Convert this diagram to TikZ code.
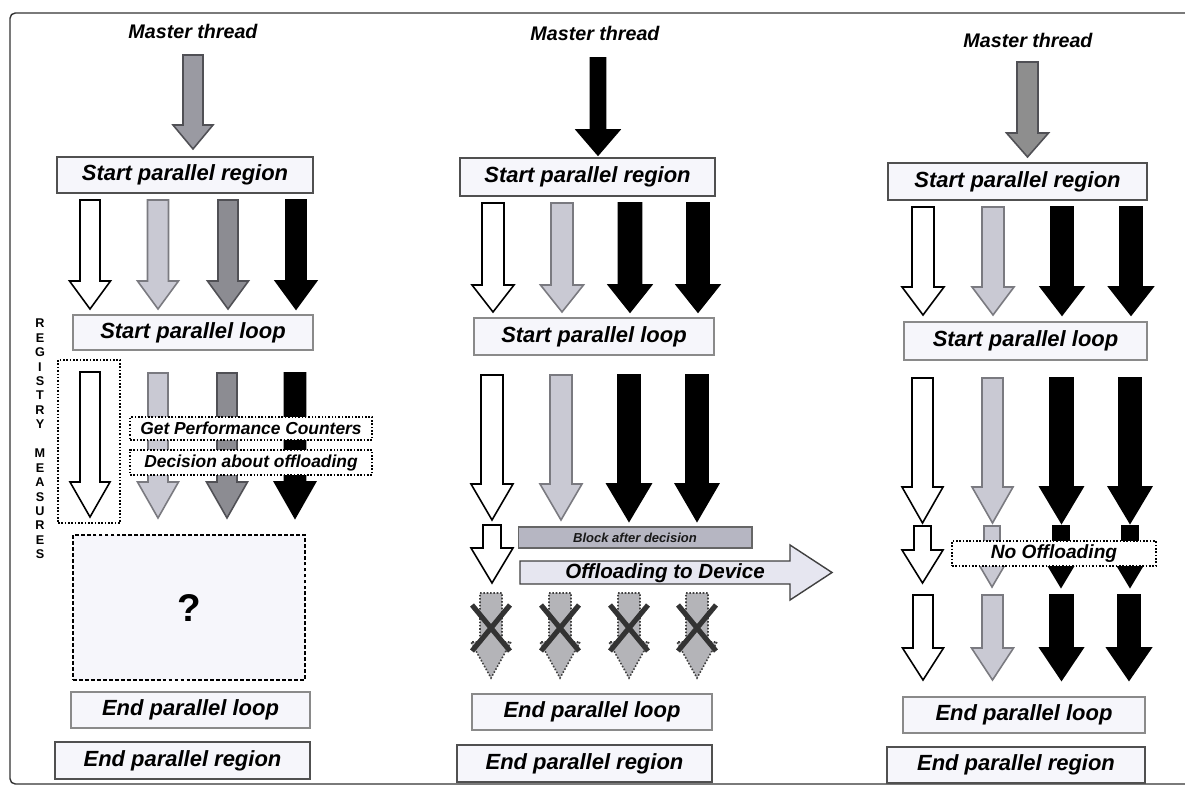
\documentclass[tikz,border=0pt]{standalone}
\usepackage{fontspec}
\setmainfont{Liberation Sans}
\definecolor{lgray}{HTML}{C9C9D3}
\definecolor{lgrayd}{HTML}{7A7A80}
\definecolor{mgray}{HTML}{8C8C92}
\definecolor{mgrayd}{HTML}{505055}
\definecolor{mstA}{HTML}{9A9AA2}
\definecolor{mstC}{HTML}{8E8E8E}
\definecolor{xgray}{HTML}{B4B4B8}
\definecolor{xdark}{HTML}{333333}
\definecolor{boxf}{HTML}{F6F6FB}
\definecolor{boxd}{HTML}{505050}
\definecolor{boxl}{HTML}{8A8A8A}
\definecolor{barf}{HTML}{B6B6C2}
\definecolor{offf}{HTML}{E6E6F0}
\newcommand{\barrow}[7]{\draw[#1] ({#2-#6},#3) -- ({#2+#6},#3) -- ({#2+#6},#4) -- ({#2+#7},#4) -- (#2,#5) -- ({#2-#7},#4) -- ({#2-#6},#4) -- cycle;}
\newcommand{\xarrow}[1]{\barrow{xgr}{#1}{593}{642}{678}{11}{20}
  \draw[xmark] ({#1-19},605) -- ({#1+19},651);
  \draw[xmark] ({#1+19},605) -- ({#1-19},651);}
\tikzset{
 wht/.style={fill=white, draw=black, line width=0.9pt},
 lgr/.style={fill=lgray, draw=lgrayd, line width=0.9pt},
 mgr/.style={fill=mgray, draw=mgrayd, line width=0.9pt},
 blk/.style={fill=black, draw=black, line width=0.9pt},
 mstone/.style={fill=mstA, draw=mgrayd, line width=0.9pt},
 msttwo/.style={fill=mstC, draw=mgrayd, line width=0.9pt},
 xgr/.style={fill=xgray, draw=black!75, line width=0.9pt, densely dotted},
 xmark/.style={draw=xdark, line width=2.9pt},
 regbox/.style={draw=boxd, fill=boxf, line width=0.7pt, inner sep=0pt,
   font=\bfseries\itshape\fontsize{12.5}{14}\selectfont},
 loopbox/.style={regbox, draw=boxl},
 dotbox/.style={draw=black, fill=white, densely dotted, line width=0.9pt, inner sep=0pt,
   font=\bfseries\itshape\fontsize{9.9}{11}\selectfont},
 mlabel/.style={font=\bfseries\itshape\fontsize{11.2}{13}\selectfont},
}
\begin{document}
\begin{tikzpicture}[x=0.02cm,y=-0.02cm]
\useasboundingbox (0,0) rectangle (1185,787);
% frame
\draw[draw=black!80, line width=0.8pt, rounded corners=3pt] (1185,13) -- (10,13) -- (10,784) -- (1185,784);

% ================= column 1 =================
\node[mlabel] (m1) at (193,31) {Master thread};
\barrow{mstone}{193}{55}{125}{149}{10}{20}
\node[regbox, minimum width=5.12cm, minimum height=0.72cm] (r1) at (185,175) {Start parallel region};
\barrow{wht}{90}{200}{281}{309}{10}{20.5}
\barrow{lgr}{158}{200}{281}{309}{10.5}{20.5}
\barrow{mgr}{228}{200}{281}{309}{10}{20.5}
\barrow{blk}{296}{200}{281}{309}{10}{20.5}
\node[loopbox, minimum width=4.8cm, minimum height=0.70cm] (l1) at (193,332.5) {Start parallel loop};
\node[font=\bfseries\fontsize{7.2}{8.22}\selectfont, align=center, inner sep=0pt] (regm) at (40,439)
 {R\\E\\G\\I\\S\\T\\R\\Y\\[8.22pt]M\\E\\A\\S\\U\\R\\E\\S};
\node[draw=black, densely dotted, line width=0.9pt, minimum width=1.24cm, minimum height=3.26cm] (regbox) at (89,441.5) {};
\barrow{wht}{90}{372}{482}{517}{10}{20}
\barrow{lgr}{158}{373}{482}{518}{10}{20.5}
\barrow{mgr}{227}{373}{482}{518}{10}{20.5}
\barrow{blk}{295}{373}{482}{518}{10.5}{20.5}
\node[dotbox, minimum width=4.84cm, minimum height=0.46cm] (gpc) at (251,428.5) {Get Performance Counters};
\node[dotbox, minimum width=4.84cm, minimum height=0.50cm] (dec) at (251,462.5) {Decision about offloading};
\node[draw=black, fill=boxf, dash pattern=on 2.2pt off 1.2pt, line width=1pt, minimum width=4.64cm, minimum height=2.9cm,
  font=\bfseries\fontsize{22}{26}\selectfont] (q) at (189,607.5) {?};
\node[loopbox, minimum width=4.78cm, minimum height=0.72cm] (el1) at (190.5,710) {End parallel loop};
\node[regbox, minimum width=5.1cm, minimum height=0.74cm] (er1) at (182.5,760.5) {End parallel region};

% ================= column 2 =================
\node[mlabel] (m2) at (595,33) {Master thread};
\barrow{blk}{598}{58}{130}{155}{7.5}{21.5}
\node[regbox, minimum width=5.1cm, minimum height=0.76cm] (r2) at (587.5,177) {Start parallel region};
\barrow{wht}{493}{203}{285}{312}{11}{21}
\barrow{lgr}{562}{203}{285}{312}{11}{21.5}
\barrow{blk}{630}{203}{285}{312}{11.5}{21.5}
\barrow{blk}{698}{203}{285}{312}{11}{21.5}
\node[loopbox, minimum width=4.8cm, minimum height=0.74cm] (l2) at (594,336.5) {Start parallel loop};
\barrow{wht}{492}{375}{484}{520}{11}{21}
\barrow{lgr}{561}{375}{484}{520}{11}{21}
\barrow{blk}{629}{375}{484}{521}{11}{22}
\barrow{blk}{697}{375}{484}{521}{11}{21.5}
\barrow{wht}{492}{525}{548}{583}{9}{21}
\node[draw=black!60, fill=barf, line width=0.6pt, minimum width=4.68cm, minimum height=0.42cm, inner sep=0pt,
  text=black!90, font=\bfseries\itshape\fontsize{7.4}{8}\selectfont] (blockbar) at (635,537.5) {Block after decision};
\draw[fill=offf, draw=black!75, line width=0.8pt] (520,561) -- (790,561) -- (790,545) -- (832,572.5) -- (790,600) -- (790,584) -- (520,584) -- cycle;
\node[font=\bfseries\itshape\fontsize{11.7}{13}\selectfont, inner sep=0pt] (off) at (665,573) {Offloading to Device};
\xarrow{491}
\xarrow{560}
\xarrow{629}
\xarrow{697}
\node[loopbox, minimum width=4.8cm, minimum height=0.72cm] (el2) at (592,712) {End parallel loop};
\node[regbox, minimum width=5.1cm, minimum height=0.74cm] (er2) at (584.5,763.5) {End parallel region};

% ================= column 3 =================
\node[mlabel] (m3) at (1028,40) {Master thread};
\barrow{msttwo}{1027.5}{62}{133}{157}{10.5}{21}
\node[regbox, minimum width=5.18cm, minimum height=0.74cm] (r3) at (1017.5,181.5) {Start parallel region};
\barrow{wht}{923}{207}{287}{315}{11}{21}
\barrow{lgr}{993}{207}{287}{315}{11}{21}
\barrow{blk}{1062}{207}{287}{315}{11}{21.5}
\barrow{blk}{1131}{207}{287}{315}{11}{22}
\node[loopbox, minimum width=4.86cm, minimum height=0.76cm] (l3) at (1025.5,341) {Start parallel loop};
\barrow{wht}{922.5}{378}{487}{523}{10.5}{20.5}
\barrow{lgr}{992.5}{378}{487}{523}{10.5}{20.5}
\barrow{blk}{1061.5}{378}{487}{523}{11.5}{21.5}
\barrow{blk}{1130}{378}{487}{523}{11}{21.5}
\barrow{wht}{922.5}{526}{550}{583}{8.5}{20.5}
\barrow{lgr}{992}{526}{552}{587}{8}{20.5}
\barrow{blk}{1061}{526}{552}{587}{8}{21}
\barrow{blk}{1130}{526}{552}{587}{8}{21}
\node[dotbox, minimum width=4.08cm, minimum height=0.5cm, font=\bfseries\itshape\fontsize{10.9}{12}\selectfont] (noff) at (1054,553.5) {No Offloading};
\barrow{wht}{923}{595}{648}{680}{10}{20.5}
\barrow{lgr}{992.5}{595}{648}{680}{10.5}{21}
\barrow{blk}{1061.5}{595}{648}{680}{11.5}{21.5}
\barrow{blk}{1129}{595}{648}{680}{11}{22}
\node[loopbox, minimum width=4.84cm, minimum height=0.72cm] (el3) at (1024,715) {End parallel loop};
\node[regbox, minimum width=5.16cm, minimum height=0.72cm] (er3) at (1016,765) {End parallel region};
\end{tikzpicture}
\end{document}
